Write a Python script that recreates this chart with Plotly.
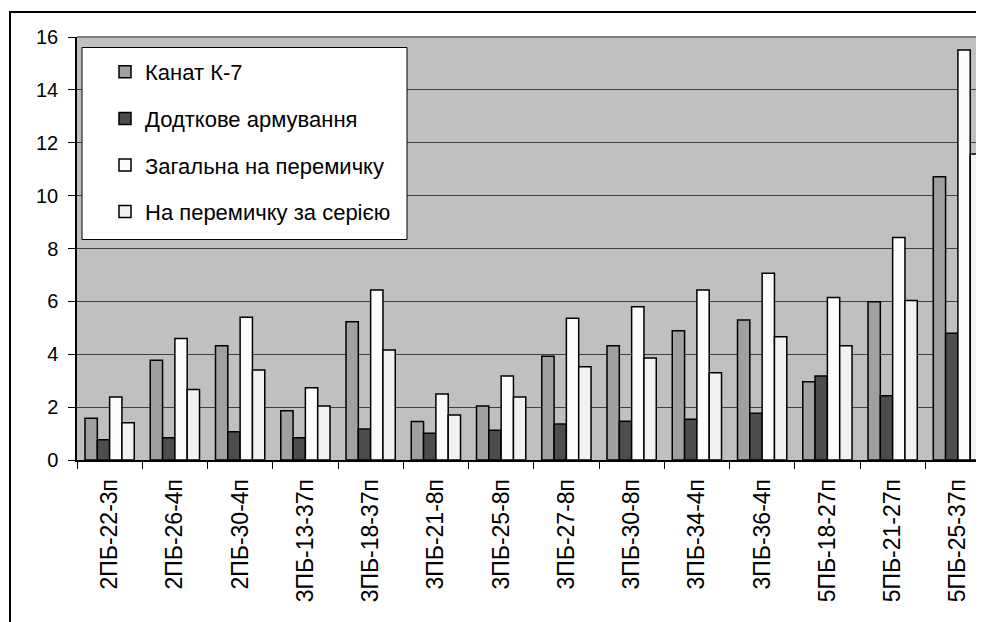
import plotly.graph_objects as go

categories = ["2ПБ-22-3п", "2ПБ-26-4п", "2ПБ-30-4п", "3ПБ-13-37п", "3ПБ-18-37п",
              "3ПБ-21-8п", "3ПБ-25-8п", "3ПБ-27-8п", "3ПБ-30-8п", "3ПБ-34-4п",
              "3ПБ-36-4п", "5ПБ-18-27п", "5ПБ-21-27п", "5ПБ-25-37п"]
kanat_k7 = [1.58, 3.77, 4.32, 1.86, 5.23, 1.46, 2.04, 3.92, 4.32, 4.89, 5.30, 2.96, 5.99, 10.71]
dodatkove = [0.77, 0.84, 1.07, 0.84, 1.17, 1.01, 1.13, 1.36, 1.47, 1.54, 1.77, 3.18, 2.43, 4.79]
zagalna = [2.38, 4.60, 5.40, 2.73, 6.43, 2.50, 3.18, 5.36, 5.80, 6.43, 7.06, 6.15, 8.42, 15.51]
za_seriieiu = [1.41, 2.67, 3.40, 2.04, 4.16, 1.70, 2.38, 3.53, 3.86, 3.30, 4.66, 4.32, 6.03, 11.57]
series_names = ["Канат К-7", "Додткове армування", "Загальна на перемичку", "На перемичку за серією"]
y_ticks = [0, 2, 4, 6, 8, 10, 12, 14, 16]

colors = ["#a0a0a0", "#4d4d4d", "#fcfcfc", "#f2f2f2"]
all_series = [kanat_k7, dodatkove, zagalna, za_seriieiu]

FONT = "Liberation Sans, Arial, sans-serif"

fig = go.Figure()
for i, (name, vals, col) in enumerate(zip(series_names, all_series, colors)):
    fig.add_trace(go.Bar(
        x=categories, y=vals, name=name, legendgroup=f"g{i}",
        marker=dict(color=col, line=dict(color="black", width=1.5)),
    ))

# page offset of the figure (default body margin)
OFF = 8
# plot area pixel geometry on page: left 77, right 984, top 37, bottom 460
L, R, T, B = 77, 984, 37, 460
W, H = R - L, B - T

def px(xp):
    return (xp - L) / W

def py(yp):
    return (B - yp) / H

shapes = [
    # outer chart frame (extends beyond image edges)
    dict(type="rect", xref="paper", yref="paper", x0=px(10), x1=px(1100), y0=py(700), y1=py(12),
         line=dict(color="black", width=2), fillcolor="rgba(0,0,0,0)", layer="below"),
    # plot-area top border
    dict(type="line", xref="paper", yref="paper", x0=0, x1=1, y0=1, y1=1,
         line=dict(color="#808080", width=2)),
    # legend box
    dict(type="rect", xref="paper", yref="paper", x0=px(82), x1=px(407), y0=py(239.5), y1=py(47.5),
         line=dict(color="black", width=1), fillcolor="white", layer="above"),
]

fig.update_layout(
    width=984, height=622,
    margin=dict(l=L - OFF, r=984 - (R - OFF), t=T - OFF, b=622 - (B - OFF), pad=0, autoexpand=False),
    paper_bgcolor="white",
    plot_bgcolor="#c0c0c0",
    barmode="group",
    bargap=0.245,
    bargroupgap=0,
    font=dict(family=FONT, color="black", size=19),
    showlegend=True,
    legend=dict(
        x=px(105), y=py(51), xanchor="left", yanchor="top",
        bgcolor="rgba(0,0,0,0)", borderwidth=0,
        font=dict(family=FONT, size=22, color="black"),
        traceorder="grouped", tracegroupgap=15,
    ),
    shapes=shapes,
    xaxis=dict(
        type="category", range=[-0.5, 13.4], automargin=False,
        tickson="boundaries", ticks="outside", ticklen=7, tickcolor="black", tickwidth=1,
        tickangle=-90, tickfont=dict(family=FONT, size=23, color="black"),
        ticklabelstandoff=8,
        showline=True, linecolor="black", linewidth=1.5,
        showgrid=False, zeroline=False,
    ),
    yaxis=dict(
        range=[0, 16], tickvals=y_ticks, ticktext=[str(v) for v in y_ticks],
        automargin=False,
        ticks="outside", ticklen=7, tickcolor="black", tickwidth=1,
        tickfont=dict(family=FONT, size=20, color="black"),
        ticklabelstandoff=6,
        showline=True, linecolor="black", linewidth=1.5,
        showgrid=True, gridcolor="#404040", gridwidth=1,
        zeroline=False,
    ),
)

fig.write_html("out.html")
